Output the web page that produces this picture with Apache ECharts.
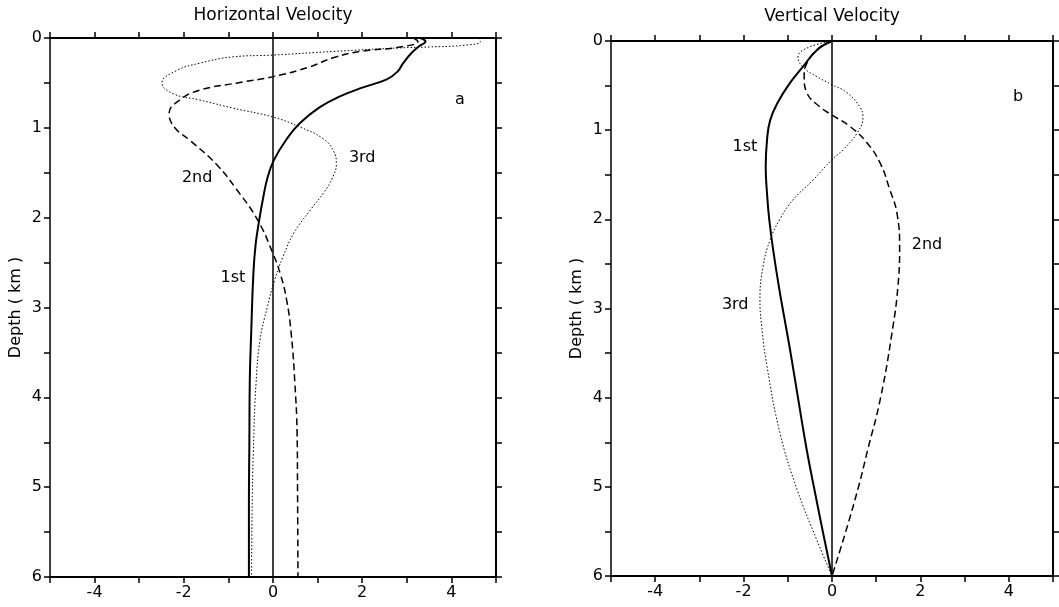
<!DOCTYPE html>
<html>
<head>
<meta charset="utf-8">
<script src="https://cdn.jsdelivr.net/npm/echarts@6/dist/echarts.min.js"></script>
<style>
  html, body { margin: 0; padding: 0; background: #fff; }
  #chart { width: 1059px; height: 607px; }
</style>
</head>
<body>
<div id="chart"></div>
<script>
// data: [velocity, depth(km)]
let hz1st = [[3.3,0],[3.42,0.04],[3.28,0.09],[3.1,0.17],[2.92,0.28],[2.78,0.38],[2.55,0.46],[2.02,0.55],[1.5,0.65],[1.05,0.77],[0.6,0.95],[0.3,1.13],[0.02,1.36],[-0.12,1.55],[-0.21,1.75],[-0.31,2.03],[-0.39,2.3],[-0.44,2.62],[-0.49,3.3],[-0.52,3.8],[-0.53,4.5],[-0.54,5.2],[-0.54,6]]
let hz2nd = [[3.15,0],[3.25,0.04],[2.85,0.1],[1.95,0.15],[1.35,0.22],[0.83,0.32],[0,0.43],[-0.8,0.5],[-1.64,0.58],[-2.09,0.69],[-2.33,0.84],[-2.2,1.0],[-1.86,1.14],[-1.26,1.41],[-0.81,1.69],[-0.34,2.03],[0,2.4],[0.16,2.62],[0.3,2.9],[0.41,3.3],[0.49,3.84],[0.54,4.4],[0.55,5.0],[0.56,6]]
let hz3rd = [[4.6,0],[4.65,0.04],[4.3,0.08],[3.5,0.1],[2.85,0.11],[1.35,0.15],[0,0.19],[-0.9,0.21],[-1.64,0.28],[-2.15,0.36],[-2.49,0.5],[-2.24,0.62],[-1.64,0.69],[-0.9,0.78],[0,0.88],[0.6,0.99],[1.12,1.12],[1.36,1.26],[1.42,1.4],[1.33,1.56],[1.14,1.72],[0.86,1.9],[0.47,2.17],[0.22,2.44],[0.04,2.69],[-0.13,3.0],[-0.29,3.36],[-0.38,3.84],[-0.44,4.59],[-0.47,5.3],[-0.48,6]]

let vt1st = [[0,0],[-0.34,0.1],[-0.66,0.29],[-0.95,0.47],[-1.24,0.7],[-1.4,0.89],[-1.47,1.11],[-1.5,1.41],[-1.47,1.71],[-1.42,2.0],[-1.32,2.38],[-1.2,2.76],[-1.08,3.1],[-0.95,3.46],[-0.77,4.0],[-0.57,4.59],[-0.37,5.1],[-0.2,5.52],[0,6]]
let vt2nd = [[0,0],[-0.27,0.07],[-0.57,0.25],[-0.63,0.4],[-0.57,0.58],[-0.27,0.74],[0,0.83],[0.41,0.96],[0.79,1.14],[1.09,1.37],[1.31,1.67],[1.47,1.93],[1.53,2.34],[1.49,2.76],[1.38,3.2],[1.1,4.0],[0.8,4.6],[0.6,5.0],[0.3,5.52],[0,6]]
let vt3rd = [[0,0],[-0.57,0.08],[-0.77,0.18],[-0.66,0.29],[-0.34,0.4],[0,0.49],[0.34,0.58],[0.63,0.74],[0.7,0.85],[0.57,1.03],[0.25,1.22],[0,1.33],[-0.43,1.56],[-0.88,1.78],[-1.18,2.0],[-1.4,2.23],[-1.56,2.53],[-1.63,2.9],[-1.58,3.25],[-1.47,3.65],[-1.18,4.39],[-0.79,5.03],[-0.34,5.6],[0,6]]

let zeroLine = [[0,0],[0,6]]
let hzLabels = [[-0.9,2.67,'1st'],[-1.7,1.56,'2nd'],[2.0,1.33,'3rd'],[4.19,0.69,'a']]
let vtLabels = [[-1.97,1.19,'1st'],[2.15,2.29,'2nd'],[-2.19,2.96,'3rd'],[4.21,0.63,'b']]
let xTickLabels = [-4,-2,0,2,4]
let depthTickLabels = [0,1,2,3,4,5,6]
let titles = ['Horizontal Velocity','Vertical Velocity']

let font = 'DejaVu Sans'

function xAxisPair(gi){
    return [
        {
            gridIndex:gi, type:'value', position:'bottom', min:-5, max:5, interval:1,
            axisLine:{onZero:false, lineStyle:{color:'#000',width:2}},
            axisTick:{length:6,lineStyle:{color:'#000',width:1.5}},
            axisLabel:{
                color:'#000', fontSize:16, fontFamily:font, margin:8,
                formatter:function(v){ return xTickLabels.indexOf(v) >= 0 ? String(v) : '' }
            },
            splitLine:{show:false}
        },
        {
            gridIndex:gi, type:'value', position:'top', min:-5, max:5, interval:1,
            axisLine:{onZero:false, lineStyle:{color:'#000',width:2}},
            axisTick:{length:6,lineStyle:{color:'#000',width:1.5}},
            axisLabel:{show:false},
            splitLine:{show:false}
        }
    ]
}

function yAxisPair(gi){
    return [
        {
            gridIndex:gi, type:'value', position:'left', inverse:true, min:0, max:6, interval:0.5,
            name:'Depth ( km )', nameLocation:'middle', nameGap:26, nameRotate:90,
            nameTextStyle:{color:'#000', fontSize:16, fontFamily:font},
            axisLine:{onZero:false, lineStyle:{color:'#000',width:1.5}},
            axisTick:{length:6,lineStyle:{color:'#000',width:1.5}},
            axisLabel:{
                color:'#000', fontSize:16, fontFamily:font, margin:8,
                formatter:function(v){ return depthTickLabels.indexOf(v) >= 0 ? String(v) : '' }
            },
            splitLine:{show:false}
        },
        {
            gridIndex:gi, type:'value', position:'right', inverse:true, min:0, max:6, interval:0.5,
            axisLine:{onZero:false, lineStyle:{color:'#000',width:2}},
            axisTick:{length:6,lineStyle:{color:'#000',width:1.5}},
            axisLabel:{show:false},
            splitLine:{show:false}
        }
    ]
}

function curve(gi, data, type, width){
    return {
        type:'line', xAxisIndex:gi*2, yAxisIndex:gi*2, data:data,
        smooth:0.45, showSymbol:false, symbol:'none', silent:true,
        lineStyle:{color:'#000', width:width, type:type}
    }
}

function labelSeries(gi, data){
    return {
        type:'scatter', xAxisIndex:gi*2, yAxisIndex:gi*2, data:data,
        symbolSize:0, silent:true,
        itemStyle:{opacity:1},
        label:{
            show:true, position:'inside', color:'#000', opacity:1, fontSize:16, fontFamily:font,
            formatter:function(p){ return p.data[2] }
        }
    }
}

function drawChart(){
    let box = document.querySelector('#chart')
    let myChart = echarts.init(box)
    let option = {
        animation:false,
        backgroundColor:'#fff',
        grid:[
            {left:50, top:38, width:446, height:539, outerBoundsMode:'none'},
            {left:611, top:41, width:442, height:535, outerBoundsMode:'none'}
        ],
        graphic:[
            {type:'text', x:273, y:16, style:{text:titles[0], fill:'#000', font:'17px "' + font + '"', textAlign:'center', textVerticalAlign:'middle'}},
            {type:'text', x:832, y:17, style:{text:titles[1], fill:'#000', font:'17px "' + font + '"', textAlign:'center', textVerticalAlign:'middle'}}
        ],
        xAxis:xAxisPair(0).concat(xAxisPair(1)),
        yAxis:yAxisPair(0).concat(yAxisPair(1)),
        series:[
            curve(0, zeroLine, 'solid', 1.5),
            curve(0, hz1st, 'solid', 2),
            curve(0, hz2nd, [7,4], 1.5),
            curve(0, hz3rd, [1.5,2], 1),
            labelSeries(0, hzLabels),
            curve(1, zeroLine, 'solid', 1.5),
            curve(1, vt1st, 'solid', 2),
            curve(1, vt2nd, [7,4], 1.5),
            curve(1, vt3rd, [1.5,2], 1),
            labelSeries(1, vtLabels)
        ]
    }
    myChart.setOption(option)
}
drawChart()
</script>
</body>
</html>
